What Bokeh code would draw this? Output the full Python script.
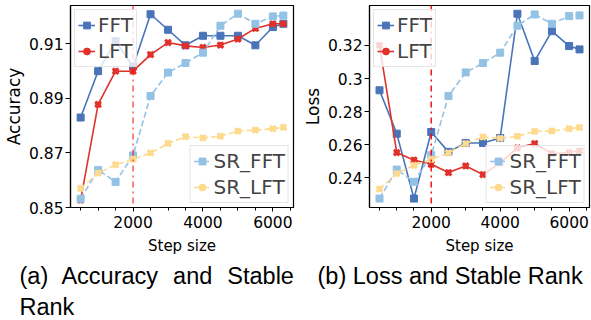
from bokeh.plotting import figure
from bokeh.models import Range1d, FixedTicker, Span, Legend, LegendItem, Title
from bokeh.layouts import row
from bokeh.embed import file_html
from bokeh.resources import INLINE

steps = [500, 1000, 1500, 2000, 2500, 3000, 3500, 4000, 4500, 5000, 5500, 6000, 6300]

acc_fft = [0.883, 0.900, 0.911, 0.9017, 0.9209, 0.9152, 0.9095, 0.913, 0.913, 0.913, 0.9095, 0.9162, 0.9174]
acc_lft = [0.8527, 0.8878, 0.900, 0.900, 0.9061, 0.9105, 0.9093, 0.9087, 0.9096, 0.9118, 0.9157, 0.9174, 0.9174]
acc_sr_fft = [0.8532, 0.8638, 0.8594, 0.8691, 0.8909, 0.8995, 0.903, 0.9068, 0.9167, 0.9211, 0.9174, 0.9201, 0.9204]
acc_sr_lft = [0.857, 0.8626, 0.8657, 0.8677, 0.870, 0.8735, 0.876, 0.8755, 0.8762, 0.878, 0.8784, 0.8789, 0.8794]

loss_fft = [0.2929, 0.2667, 0.2275, 0.2677, 0.2557, 0.2611, 0.2611, 0.2641, 0.3391, 0.3106, 0.3286, 0.3196, 0.3176]
loss_lft = [0.320, 0.2553, 0.2507, 0.2482, 0.2432, 0.2472, 0.242, 0.249, 0.2581, 0.2607, 0.2547, 0.2553, 0.2563]
loss_sr_fft = [0.2275, 0.245, 0.2376, 0.2537, 0.2894, 0.3037, 0.3093, 0.3156, 0.3319, 0.3387, 0.3331, 0.3377, 0.3381]
loss_sr_lft = [0.2332, 0.2426, 0.2476, 0.2511, 0.2551, 0.2607, 0.2647, 0.2639, 0.2651, 0.2681, 0.2683, 0.2697, 0.2704]

acc_ticks = [0.85, 0.87, 0.89, 0.91]
loss_ticks = [0.24, 0.26, 0.28, 0.30, 0.32]
loss_tick_labels = {0.24: "0.24", 0.26: "0.26", 0.28: "0.28", 0.3: "0.3", 0.32: "0.32"}
x_major = [2000, 4000, 6000]
x_minor = [500, 1000, 1500, 2000, 2500, 3000, 3500, 4000, 4500, 5000, 5500, 6000, 6500]
marker_step = 2000

C_FFT = "#4a74b8"
C_LFT = "#e0312b"
C_SRF = "#93c2e5"
C_SRL = "#fdda8e"

AX_FONT = "DejaVu Sans"
CAP_FONT = "Liberation Sans"


def make_fig(yvals, ylab, yrange, yticks, overrides, frame_w, bl, br, span_alpha, caption_lines, cap_offset):
    p = figure(frame_width=frame_w, frame_height=202, x_range=Range1d(210, 6590),
               y_range=Range1d(*yrange), output_backend="svg", toolbar_location=None,
               min_border_left=bl, min_border_right=br, min_border_top=5, min_border_bottom=0)
    p.grid.visible = False
    p.outline_line_color = "black"
    p.outline_line_width = 1.2
    p.background_fill_color = "white"
    p.border_fill_color = "white"

    xa = p.xaxis[0]
    xa.ticker = FixedTicker(ticks=x_major, minor_ticks=x_minor)
    xa.axis_label = "Step size"
    ya = p.yaxis[0]
    ya.ticker = FixedTicker(ticks=yticks, minor_ticks=[])
    ya.axis_label = ylab
    if overrides:
        ya.major_label_overrides = overrides
    for ax in (xa, ya):
        ax.major_label_text_font = AX_FONT
        ax.major_label_text_font_size = "15.5px"
        ax.major_label_text_color = "black"
        ax.axis_label_text_font = AX_FONT
        ax.axis_label_text_font_style = "normal"
        ax.axis_label_text_color = "black"
        ax.axis_line_color = "black"
        ax.axis_line_width = 1.2
        ax.major_tick_line_color = "black"
        ax.minor_tick_line_color = "black"
        ax.major_tick_in = 0
        ax.minor_tick_in = 0
    xa.axis_label_text_font_size = "15px"
    ya.axis_label_text_font_size = "17px"
    xa.major_tick_out = 4
    xa.minor_tick_out = 3
    ya.major_tick_out = 5
    xa.major_label_standoff = 4
    xa.axis_label_standoff = 6
    ya.major_label_standoff = 2
    ya.axis_label_standoff = 2

    f, l, sf, sl = yvals
    r_f_l = p.line(steps, f, line_color=C_FFT, line_width=1.6)
    r_f_m = p.scatter(steps, f, marker="square", size=7, fill_color=C_FFT, line_color=C_FFT)
    r_l_l = p.line(steps, l, line_color=C_LFT, line_width=1.6)
    r_l_m1 = p.scatter(steps, l, marker="x", size=8, line_color=C_LFT, line_width=3)
    r_l_m2 = p.scatter(steps, l, marker="circle", size=5, fill_color=C_LFT, line_color=C_LFT)

    r_sf_l = p.line(steps, sf, line_color=C_SRF, line_width=1.6, line_dash="6 3")
    r_sf_m = p.scatter(steps, sf, marker="square", size=7, fill_color=C_SRF, line_color=C_SRF)
    r_sl_l = p.line(steps, sl, line_color=C_SRL, line_width=1.6, line_dash="6 3")
    r_sl_m1 = p.scatter(steps, sl, marker="x", size=8, line_color=C_SRL, line_width=3)
    r_sl_m2 = p.scatter(steps, sl, marker="circle", size=5, fill_color=C_SRL, line_color=C_SRL)

    p.add_layout(Span(location=marker_step, dimension="height", line_color="red",
                      line_alpha=span_alpha, line_dash="dashdot", line_width=1.4))

    def legend(items, loc):
        lg = Legend(items=items, location=loc, label_text_font=AX_FONT,
                    label_text_font_size="20px", glyph_width=17, glyph_height=22,
                    label_standoff=3, padding=3, spacing=2, margin=4,
                    background_fill_alpha=0.8, border_line_color="#cccccc",
                    border_line_width=1, label_height=22)
        p.add_layout(lg)

    legend([LegendItem(label="FFT", renderers=[r_f_l, r_f_m]),
            LegendItem(label="LFT", renderers=[r_l_l, r_l_m1, r_l_m2])], "top_left")
    legend([LegendItem(label="SR_FFT", renderers=[r_sf_l, r_sf_m]),
            LegendItem(label="SR_LFT", renderers=[r_sl_l, r_sl_m1, r_sl_m2])], "bottom_right")

    for i, txt in enumerate(caption_lines):
        t = Title(text=txt, align="left", offset=cap_offset, text_font=CAP_FONT,
                  text_font_size="23.5px", text_font_style="normal", text_color="black",
                  standoff=6 if i == 0 else 0)
        p.add_layout(t, "below")
    return p


g1 = "\u00a0\u2009\u200a"
g2 = "\u00a0\u00a0\u200a"
p1 = make_fig((acc_fft, acc_lft, acc_sr_fft, acc_sr_lft), "Accuracy", (0.85, 0.9241),
              acc_ticks, None, 223, 63, 6, 0.7,
              ["(a)" + g1 + "Accuracy" + g2 + "and" + g2 + "Stable", "Rank"], -51)
p2 = make_fig((loss_fft, loss_lft, loss_sr_fft, loss_sr_lft), "Loss", (0.2221, 0.3441),
              loss_ticks, loss_tick_labels, 220, 66, 5, 1.0,
              ["(b) Loss and Stable Rank"], -52)

layout = row(p1, p2)
open("out.html", "w").write(file_html(layout, INLINE))
